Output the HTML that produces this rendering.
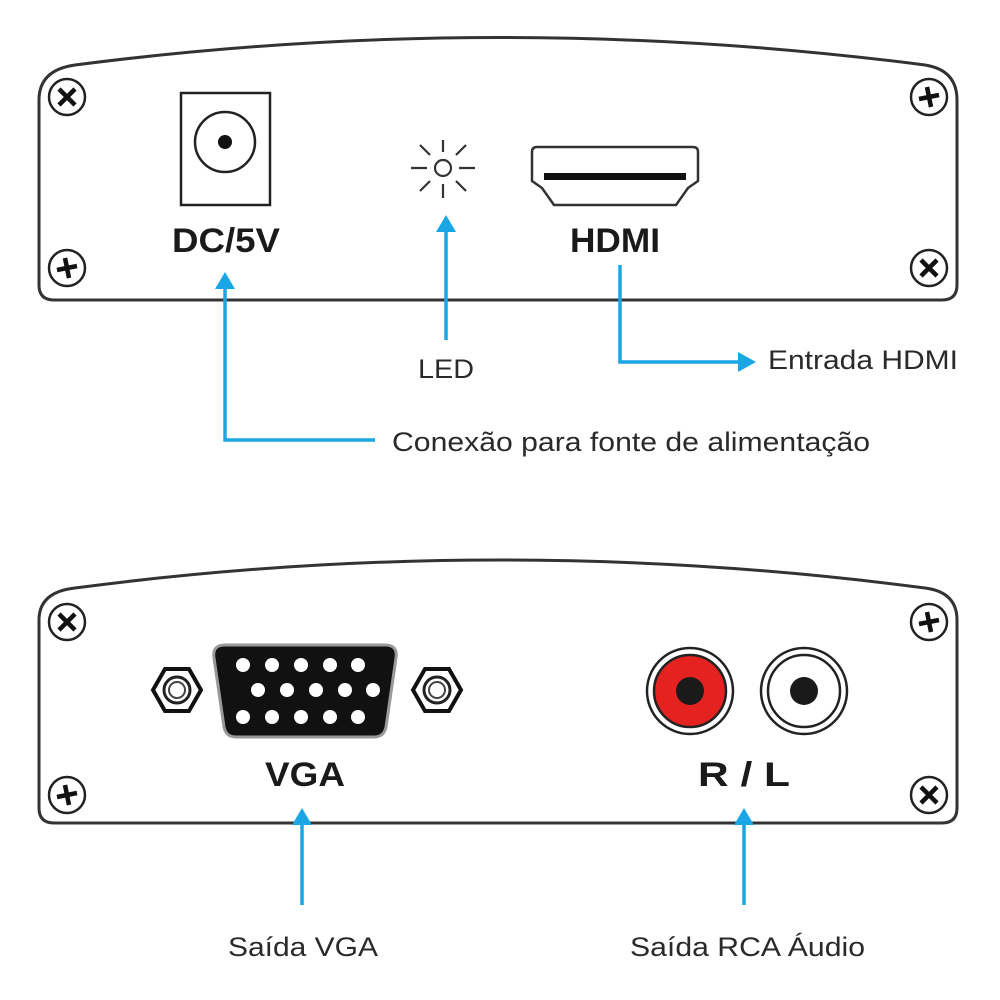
<!DOCTYPE html>
<html><head><meta charset="utf-8"><style>
html,body{margin:0;padding:0;background:#fff;width:1000px;height:1000px;overflow:hidden}
svg text{font-family:"Liberation Sans",Arial,sans-serif}
</style></head><body>
<svg width="1000" height="1000" viewBox="0 0 1000 1000" xmlns="http://www.w3.org/2000/svg">
<defs>
<g id="sx"><circle r="18" fill="#fff" stroke="#222" stroke-width="2.5"/><path d="M-8,-8L8,8M8,-8L-8,8" stroke="#111" stroke-width="4.5"/></g>
<g id="sp"><circle r="18" fill="#fff" stroke="#222" stroke-width="2.5"/><path d="M-10,2L10,-2M-2,-10L2,10" stroke="#111" stroke-width="4.5"/></g>
<g id="hex"><polygon points="-24,0 -12,-21 12,-21 24,0 12,21 -12,21" fill="#fff" stroke="#111" stroke-width="4"/><circle r="13" fill="none" stroke="#222" stroke-width="3"/><circle r="8" fill="none" stroke="#444" stroke-width="2"/></g>
</defs>
<path d="M39,100 Q39,70 75,65 Q500,10 925,65 Q957,70 957,100 L957,285 Q957,300 942,300 L54,300 Q39,300 39,285 Z" fill="#fff" stroke="#333" stroke-width="3"/>
<use href="#sx" x="67" y="97"/><use href="#sp" x="67" y="268"/>
<use href="#sp" x="929" y="97"/><use href="#sx" x="929" y="268"/>
<rect x="181" y="93" width="89" height="112" fill="none" stroke="#222" stroke-width="2.5"/>
<circle cx="225" cy="142" r="30" fill="none" stroke="#222" stroke-width="2.5"/>
<circle cx="225" cy="142" r="7" fill="#111"/>
<g stroke="#333" stroke-width="2.2">
<circle cx="443" cy="168" r="8" fill="none"/>
<path d="M443,140V152M443,184V198M411,168H427M459,168H475M420,145L430,155M456,181L466,191M466,145L456,155M430,181L420,191"/>
</g>
<path d="M532,152 Q532,147 537,147 L693,147 Q698,147 698,152 L698,181 L688,188 L676,205 L554,205 L542,188 L532,181 Z" fill="none" stroke="#333" stroke-width="2.5"/>
<rect x="544" y="173" width="142" height="7" fill="#111"/>
<text x="172" y="252" font-size="34" font-weight="bold" textLength="108" lengthAdjust="spacingAndGlyphs" fill="#1a1a1a">DC/5V</text>
<text x="570" y="252" font-size="34" font-weight="bold" textLength="90" lengthAdjust="spacingAndGlyphs" fill="#1a1a1a">HDMI</text>
<path d="M39,620 Q39,592 75,588 Q500,532 925,588 Q957,592 957,620 L957,808 Q957,823 942,823 L54,823 Q39,823 39,808 Z" fill="#fff" stroke="#333" stroke-width="3"/>
<use href="#sx" x="67" y="622"/><use href="#sp" x="67" y="795"/>
<use href="#sp" x="929" y="622"/><use href="#sx" x="929" y="795"/>
<use href="#hex" x="177" y="690"/><use href="#hex" x="437" y="690"/>
<path d="M225,645 L385,645 Q398,645 396,658 L386,727 Q384,737 374,737 L236,737 Q226,737 224,727 L214,658 Q212,645 225,645 Z" fill="#111" stroke="#999" stroke-width="3"/>
<g fill="#fff">
<circle cx="243" cy="665" r="7"/><circle cx="272" cy="665" r="7"/><circle cx="301" cy="665" r="7"/><circle cx="330" cy="665" r="7"/><circle cx="358" cy="665" r="7"/>
<circle cx="258" cy="690" r="7"/><circle cx="287" cy="690" r="7"/><circle cx="316" cy="690" r="7"/><circle cx="345" cy="690" r="7"/><circle cx="373" cy="690" r="7"/>
<circle cx="243" cy="717" r="7"/><circle cx="272" cy="717" r="7"/><circle cx="301" cy="717" r="7"/><circle cx="330" cy="717" r="7"/><circle cx="358" cy="717" r="7"/>
</g>
<circle cx="690" cy="691" r="43" fill="#fff" stroke="#222" stroke-width="2.5"/>
<circle cx="690" cy="691" r="36" fill="#e42320" stroke="#222" stroke-width="2.5"/>
<circle cx="690" cy="691" r="14" fill="#1a1a1a"/>
<circle cx="804" cy="691" r="43" fill="#fff" stroke="#222" stroke-width="2.5"/>
<circle cx="804" cy="691" r="36" fill="#fff" stroke="#222" stroke-width="2.5"/>
<circle cx="804" cy="691" r="14" fill="#1a1a1a"/>
<text x="265" y="786" font-size="34" font-weight="bold" textLength="80" lengthAdjust="spacingAndGlyphs" fill="#1a1a1a">VGA</text>
<text x="698" y="786" font-size="34" font-weight="bold" textLength="92" lengthAdjust="spacingAndGlyphs" fill="#1a1a1a">R / L</text>
<g stroke="#1aa6e4" stroke-width="3.5" fill="none">
<path d="M225,285V440H375"/><path d="M446,228V340"/><path d="M620,265V362H740"/>
<path d="M302,822V905"/><path d="M744,822V905"/>
</g>
<g fill="#1aa6e4">
<polygon points="225,272 215,289 235,289"/>
<polygon points="446,215 436,232 456,232"/>
<polygon points="756,362 738,352 738,372"/>
<polygon points="302,808 292,825 312,825"/>
<polygon points="744,808 734,825 754,825"/>
</g>
<g font-size="27" fill="#2a2a2a">
<text x="418" y="378" textLength="56" lengthAdjust="spacingAndGlyphs">LED</text>
<text x="768" y="369" textLength="190" lengthAdjust="spacingAndGlyphs">Entrada HDMI</text>
<text x="392" y="451" textLength="478" lengthAdjust="spacingAndGlyphs">Conexão para fonte de alimentação</text>
<text x="228" y="956" textLength="150" lengthAdjust="spacingAndGlyphs">Saída VGA</text>
<text x="630" y="956" textLength="235" lengthAdjust="spacingAndGlyphs">Saída RCA Áudio</text>
</g>
</svg>
</body></html>
